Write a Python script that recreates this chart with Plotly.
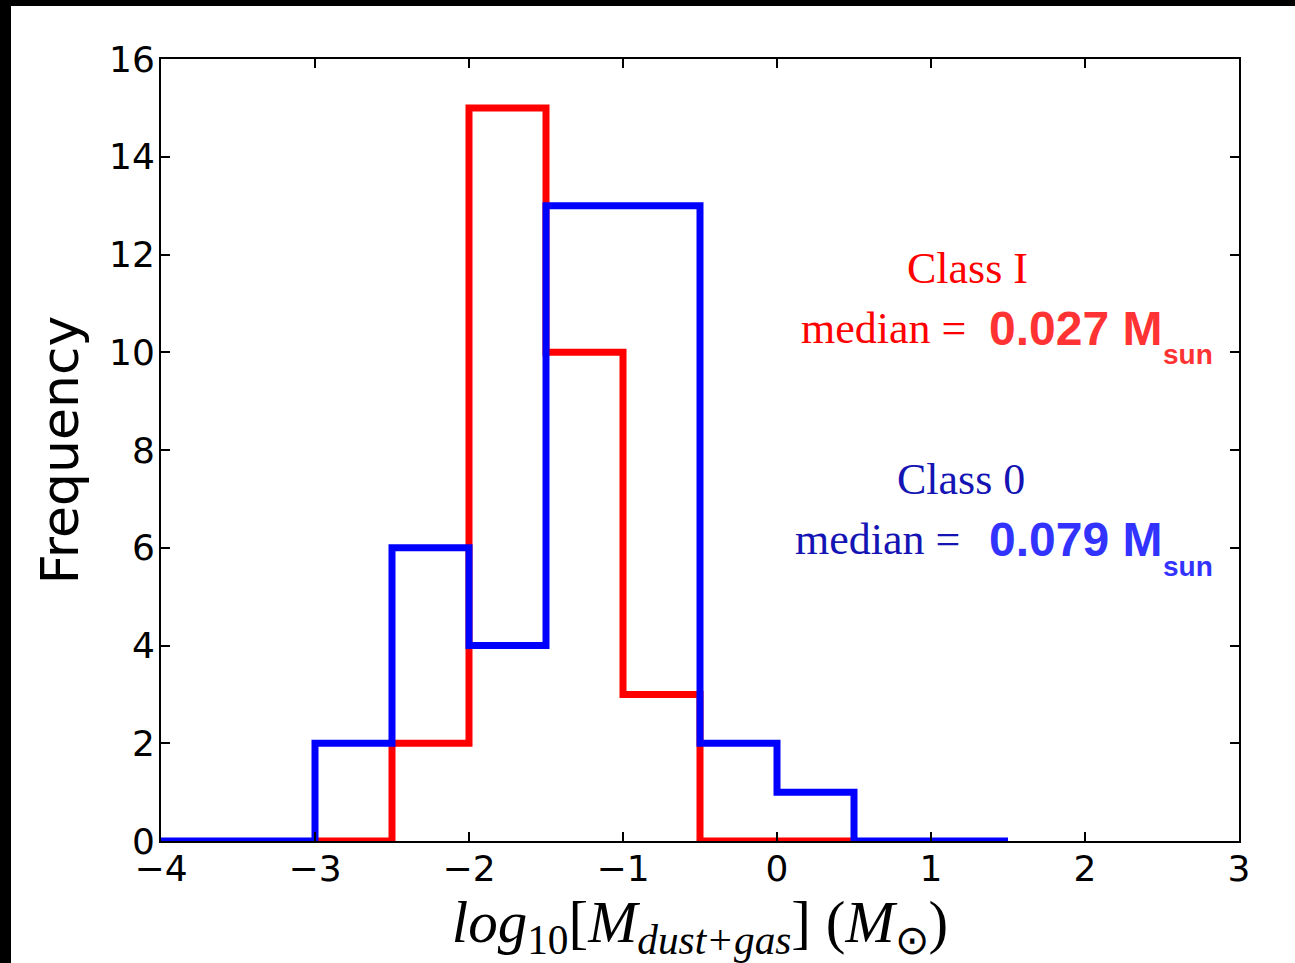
import plotly.graph_objects as go

# Histogram bins in log10 mass (solar masses)
class1_edges = [-3.0, -2.5, -2.0, -1.5, -1.0, -0.5, 0.0, 0.5]
class1_counts = [0, 2, 15, 10, 3, 0, 0]

class0_edges = [-4.0, -3.5, -3.0, -2.5, -2.0, -1.5, -1.0, -0.5, 0.0, 0.5, 1.0, 1.5]
class0_counts = [0, 0, 2, 6, 4, 13, 13, 2, 1, 0, 0]

x_ticks = [-4, -3, -2, -1, 0, 1, 2, 3]
y_ticks = [0, 2, 4, 6, 8, 10, 12, 14, 16]

W, H = 1295, 963
L, R, T, B = 161, 1239, 59, 841


def px(x):
    return (x - L) / (R - L)


def py(y):
    return (B - y) / (B - T)


def step_path(edges, counts):
    # outline of a step histogram: rise at the first edge, fall at the last
    xs = [edges[0]] + edges[:-1] + [edges[-1]]
    ys = [0] + counts + [0]
    return xs, ys


fig = go.Figure()

rx, ry = step_path(class1_edges, class1_counts)
fig.add_trace(go.Scatter(x=rx, y=ry, mode="lines", line=dict(color="#ff0000", width=7, shape="hv"),
                         showlegend=False, hoverinfo="skip"))
bx, by = step_path(class0_edges, class0_counts)
fig.add_trace(go.Scatter(x=bx, y=by, mode="lines", line=dict(color="#0000ff", width=7, shape="hv"),
                         showlegend=False, hoverinfo="skip"))

tick_font = dict(family="DejaVu Sans", size=36, color="black")

fig.update_xaxes(range=[-4, 3], tickvals=x_ticks, ticktext=[str(v).replace("-", "\u2212") for v in x_ticks],
                 ticks="inside", ticklen=9, tickwidth=1.5, tickcolor="black",
                 showline=True, linecolor="black", linewidth=2, mirror="ticks",
                 showgrid=False, zeroline=False, tickfont=tick_font, ticklabelstandoff=-5,
                 title=dict(text="<i>log</i><sub>10</sub>[<i>M</i><sub><i>dust+gas</i></sub>] (<i>M</i><sub>\u2299</sub>)",
                            font=dict(family="Liberation Serif", size=59, color="black"), standoff=2))
fig.update_yaxes(range=[0, 16], tickvals=y_ticks, ticktext=[str(v) for v in y_ticks],
                 ticks="inside", ticklen=9, tickwidth=1.5, tickcolor="black",
                 showline=True, linecolor="black", linewidth=2, mirror="ticks",
                 showgrid=False, zeroline=False, tickfont=tick_font, ticklabelstandoff=-3,
                 title=dict(text="Frequency", font=dict(family="DejaVu Sans", size=52, color="black"), standoff=14))

# white canvas inside the dark frame
fig.add_shape(type="rect", xref="paper", yref="paper", layer="below",
              x0=px(11), x1=px(W + 10), y0=py(H + 10), y1=py(6),
              fillcolor="white", line=dict(width=0))

red_serif = dict(family="Liberation Serif", size=44, color="#ff0000")
red_bold = dict(family="Liberation Sans", size=48, color="#ff3333")
blue_serif = dict(family="Liberation Serif", size=44, color="#1414b4")
blue_bold = dict(family="Liberation Sans", size=48, color="#3333ff")


def note(text, x, y, font, xanchor="left", yanchor="middle"):
    fig.add_annotation(text=text, x=px(x), y=py(y), xref="paper", yref="paper",
                       showarrow=False, font=font, xanchor=xanchor, yanchor=yanchor)


note("Class I", 967, 268, red_serif, "center")
note("median =", 968, 328, red_serif, "right")
note("<b>0.027 M</b>", 987, 328, red_bold)
note("<b>sun</b>", 1161, 354, dict(red_bold, size=28))

note("Class 0", 961, 479, blue_serif, "center")
note("median =", 962, 539, blue_serif, "right")
note("<b>0.079 M</b>", 987, 539, blue_bold)
note("<b>sun</b>", 1161, 566, dict(blue_bold, size=28))

fig.update_layout(width=W, height=H, autosize=False,
                  margin=dict(l=L, r=W - R, t=T, b=H - B),
                  paper_bgcolor="black", plot_bgcolor="white")

fig.write_html("out.html")
